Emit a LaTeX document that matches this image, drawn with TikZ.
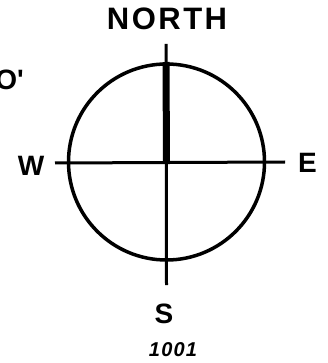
\documentclass[tikz,border=0pt]{standalone}
\usepackage{fontspec}
\setmainfont{Liberation Sans}
\usepackage{tikz}
\usetikzlibrary{positioning, calc}

\begin{document}
\begin{tikzpicture}[x=1pt, y=-1pt,
  dirlabel/.style={font=\fontsize{28}{28}\selectfont\bfseries, inner sep=0pt},
  axisline/.style={line width=3pt}]
  \useasboundingbox (0,0) rectangle (327,363);
  \clip (0,0) rectangle (327,363);

  \coordinate (ctr) at (166.5, 162);
  \coordinate (ntip) at (166, 44);
  \coordinate (ntop) at (166, 62);
  \coordinate (stip) at (166.5, 285);
  \coordinate (wtip) at (55, 163);
  \coordinate (etip) at (285, 162);

  \node[font=\fontsize{31}{31}\selectfont\bfseries\addfontfeatures{LetterSpace=8}, inner sep=0pt] (north) at (167, 18.5) {NORTH};
  \node[dirlabel] (west) at (31, 166) {W};
  \node[dirlabel] (east) at (307.5, 162.5) {E};
  \node[dirlabel] (south) at (164, 314) {S};
  \node[font=\fontsize{20}{20}\selectfont\bfseries\itshape\addfontfeatures{LetterSpace=6}, inner sep=0pt] (code) at (173, 350) {1001};
  \node[dirlabel, anchor=east] (cut) at (24, 80) {O\textquotesingle};

  \draw[line width=3.5pt] (ctr) circle (98);
  \draw[axisline] (wtip) -- (etip);
  \draw[axisline] (ntip) -- (stip);
  \draw[line width=7pt] (ntop) -- (ctr);
\end{tikzpicture}
\end{document}
